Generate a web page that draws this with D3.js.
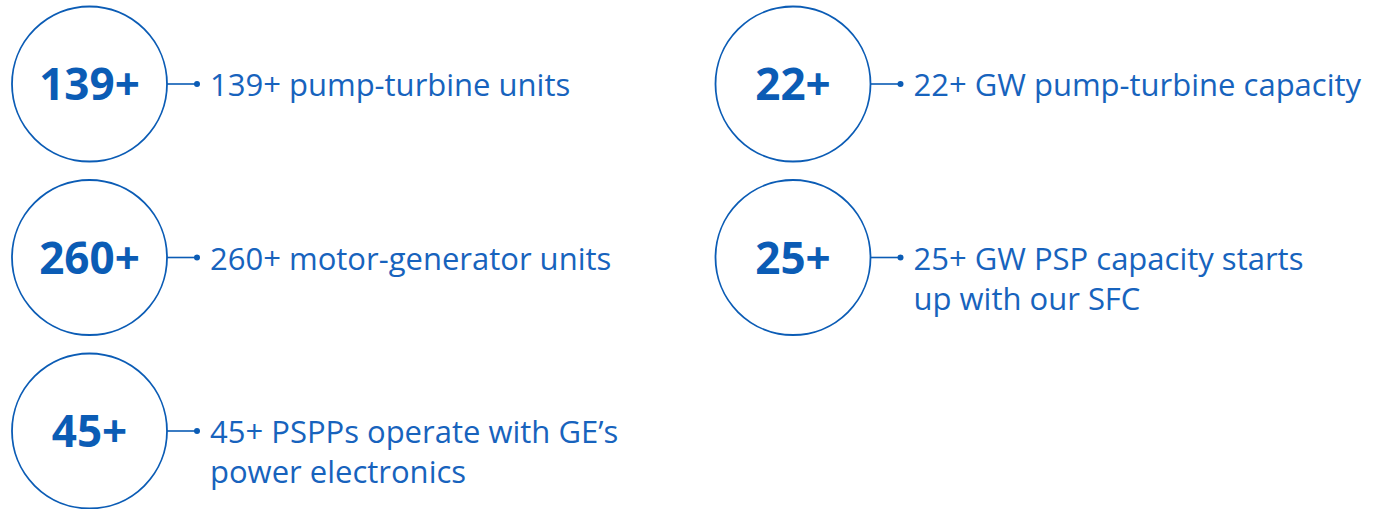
<!DOCTYPE html>
<meta charset="utf-8">
<head>
    <title>PSP stats</title>
</head>
<style>
body { margin: 0; background: #fff; }

.ring {
  fill: none;
  stroke: #0b5cb5;
  stroke-width: 1.8;
}

.link {
  stroke: #0b5cb5;
  stroke-width: 1.6;
}

.dot { fill: #0b5cb5; }

.big {
  font: bold 44px "Open Sans", sans-serif;
  fill: #0b5cb5;
  text-anchor: middle;
}

.desc {
  font: 31px "Open Sans", sans-serif;
  fill: #1763bd;
}
</style>
<body>
<script src="https://cdn.jsdelivr.net/npm/d3@7"></script>
<script>

// stats
var bigLabels = ["139+", "260+", "45+", "22+", "25+"];
var descriptions = [
  ["139+ pump-turbine units"],
  ["260+ motor-generator units"],
  ["45+ PSPPs operate with GE\u2019s", "power electronics"],
  ["22+ GW pump-turbine capacity"],
  ["25+ GW PSP capacity starts", "up with our SFC"]
];
var columns = [0, 0, 0, 1, 1];
var rows = [0, 1, 2, 0, 1];

var width = 1373,
    height = 509,
    r = 77.5;

var x = d3.scalePoint()
    .domain([0, 1])
    .range([89.5, 793]);

var y = d3.scalePoint()
    .domain([0, 1, 2])
    .range([84, 431]);

var data = bigLabels.map(function(d, i) {
  return {big: d, lines: descriptions[i], col: columns[i], row: rows[i]};
});

var svg = d3.select("body").append("svg")
    .attr("width", width)
    .attr("height", height);

var item = svg.selectAll(".item")
    .data(data)
  .enter().append("g")
    .attr("class", "item")
    .attr("transform", function(d) { return "translate(" + x(d.col) + "," + y(d.row) + ")"; });

item.append("circle")
    .attr("class", "ring")
    .attr("r", r);

item.append("text")
    .attr("class", "big")
    .attr("y", 16)
    .text(function(d) { return d.big; });

// connector from ring to the little dot
item.append("line")
    .attr("class", "link")
    .attr("x1", r)
    .attr("x2", r + 30)
    .attr("y1", 0)
    .attr("y2", 0);

item.append("circle")
    .attr("class", "dot")
    .attr("cx", r + 30)
    .attr("r", 3);

item.append("text")
    .attr("class", "desc")
    .attr("x", r + 43)
    .attr("y", 12)
  .selectAll("tspan")
    .data(function(d) { return d.lines; })
  .enter().append("tspan")
    .attr("x", r + 43)
    .attr("dy", function(d, i) { return i ? 40 : 0; })
    .text(function(d) { return d; });

</script>
</body>
